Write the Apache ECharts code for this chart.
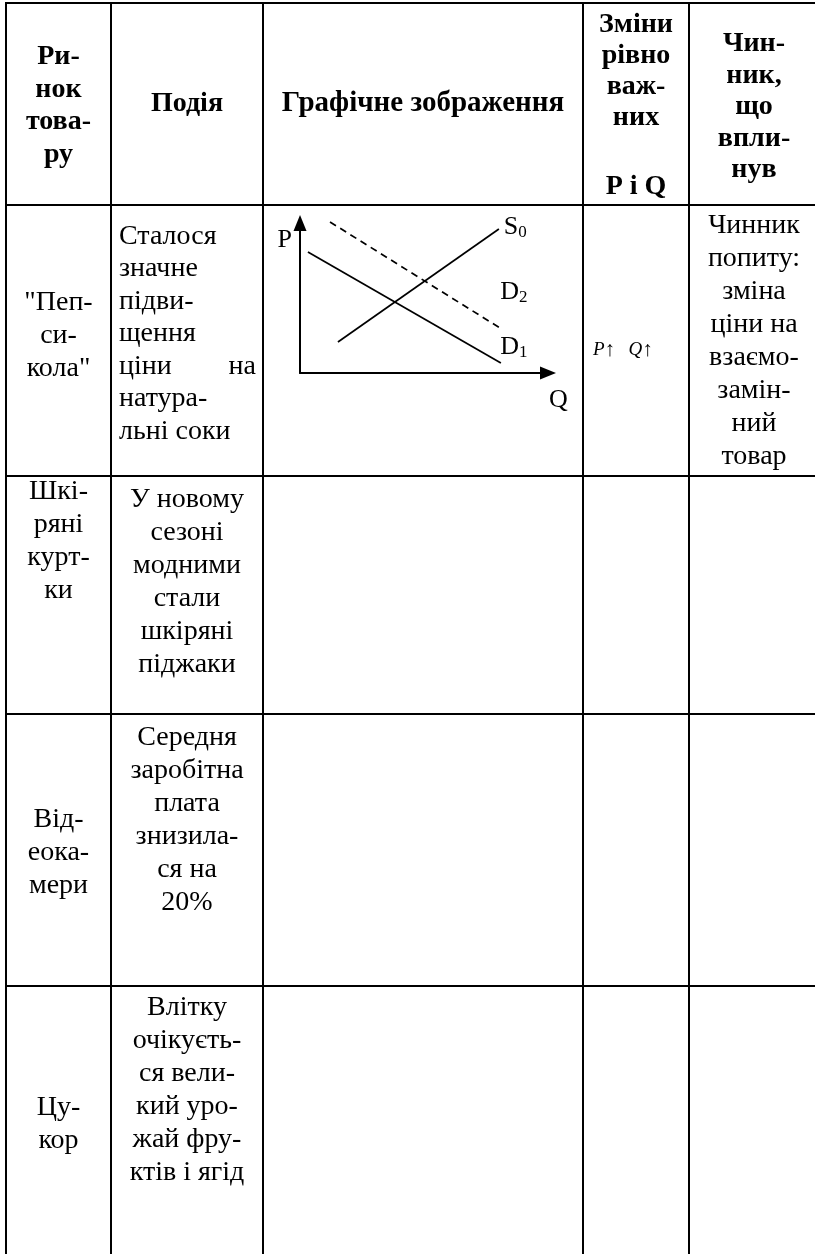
<!DOCTYPE html>
<html><head><meta charset="utf-8">
<script src="https://cdn.jsdelivr.net/npm/echarts@6/dist/echarts.min.js"></script>
<style>html,body{margin:0;padding:0;background:#fff}#c{width:815px;height:1254px}</style>
</head><body><div id="c"></div>
<script>
// ---- table content ----
const columnHeaders = [
  ["Ри-","нок","това-","ру"],
  ["Подія"],
  ["Графічне зображення"],
  ["Зміни","рівно","важ-","них"],
  ["Чин-","ник,","що","впли-","нув"]
];
const headerPQ = "P і Q";
const markets = [
  ["\"Пеп-","си-","кола\""],
  ["Шкі-","ряні","курт-","ки"],
  ["Від-","еока-","мери"],
  ["Цу-","кор"]
];
const events = [
  ["Сталося","значне","підви-","щення","ціни на","натура-","льні соки"],
  ["У новому","сезоні","модними","стали","шкіряні","піджаки"],
  ["Середня","заробітна","плата","знизила-","ся на","20%"],
  ["Влітку","очікуєть-","ся вели-","кий уро-","жай фру-","ктів і ягід"]
];
const equilibriumChanges = [["P","↑","Q","↑"], [], [], []];
const factors = [
  ["Чинник","попиту:","зміна","ціни на","взаємо-","замін-","ний","товар"],
  [], [], []
];

// ---- graph data (P–Q diagram, arbitrary units 0..10) ----
const curveS0 = [[1.53, 2.07], [8.02, 9.6]];
const curveD1 = [[0.32, 8.07], [8.10, 0.67]];
const curveD2 = [[1.21, 10.07], [8.19, 2.87]];
const curveLabels = [
  {main: "S", sub: "0", at: [8.68, 9.75]},
  {main: "D", sub: "2", at: [8.62, 5.4]},
  {main: "D", sub: "1", at: [8.62, 1.73]}
];
const axisLabels = [
  {main: "P", at: [-0.62, 8.87]},
  {main: "Q", at: [10.42, -1.8]}
];

// ---- layout ----
const FONT = '"Liberation Serif","Times New Roman",serif';
const colX = [6, 111, 263, 583, 689, 817];
const rowY = [3, 205, 476, 714, 986, 1262];
const colC = [58.5, 187, 423, 636, 754];

const g = [];
function line(x1, y1, x2, y2) {
  g.push({type: 'line', shape: {x1, y1, x2, y2}, style: {stroke: '#000', lineWidth: 2}, z: 10});
}
colX.forEach(x => line(x, rowY[0] - 1, x, rowY[5]));
rowY.forEach(y => line(colX[0] - 1, y, colX[5], y));

function text(t, x, y, font, align) {
  g.push({type: 'text', x, y, z: 11,
    style: {text: t, font, fill: '#000', textAlign: align || 'center', textVerticalAlign: 'middle'}});
}
function blockCentered(lines, cx, cy, lh, font) {
  const n = lines.length;
  lines.forEach((t, i) => { if (t) text(t, cx, cy + (i - (n - 1) / 2) * lh, font); });
}
function blockTop(lines, cx, y0, lh, font) {
  lines.forEach((t, i) => { if (t) text(t, cx, y0 + i * lh, font); });
}
function blockJustified(lines, xl, xr, cy, lh, font) {
  const n = lines.length;
  lines.forEach((t, i) => {
    const y = cy + (i - (n - 1) / 2) * lh;
    const w = t.split(' ');
    if (w.length > 1 && i < n - 1) {
      text(w[0], xl, y, font, 'left');
      text(w[w.length - 1], xr, y, font, 'right');
    } else text(t, xl, y, font, 'left');
  });
}

const HF = 'bold 28px ' + FONT;
const BF = '28px ' + FONT;
const LH = 33;

// header
blockCentered(columnHeaders[0], colC[0], 106, 32.5, HF);
blockCentered(columnHeaders[1], colC[1], 104, 32, HF);
blockCentered(columnHeaders[2], colC[2], 104, 32, 'bold 29px ' + FONT);
blockTop(columnHeaders[3], colC[3], 25, 31, HF);
text(headerPQ, colC[3], 187, HF);
blockCentered(columnHeaders[4], colC[4], 107, 31.5, HF);

// row 1
blockCentered(markets[0], colC[0], 336, LH, BF);
blockJustified(events[0], 119, 256, 334, 32.5, BF);
blockCentered(factors[0], colC[4], 341, LH, BF);
g.push({type: 'text', x: 593, y: 350, z: 11, style: {
  text: '{i|' + equilibriumChanges[0][0] + '}{a|' + equilibriumChanges[0][1] + '}    {i|' + equilibriumChanges[0][2] + '}{a|' + equilibriumChanges[0][3] + '}',
  textAlign: 'left', textVerticalAlign: 'middle', fill: '#000',
  rich: {i: {font: 'italic 19px ' + FONT, fill: '#000'}, a: {font: '21px ' + FONT, fill: '#000'}}
}});

// row 2
blockTop(markets[1], colC[0], 492, LH, BF);
blockTop(events[1], colC[1], 500, LH, BF);
// row 3
blockCentered(markets[2], colC[0], 853, LH, BF);
blockTop(events[2], colC[1], 738, LH, BF);
// row 4
blockCentered(markets[3], colC[0], 1124, LH, BF);
blockTop(events[3], colC[1], 1008, LH, BF);

// ---- chart ----
const chart = echarts.init(document.getElementById('c'), null, {renderer: 'canvas'});
const axisCommon = {
  type: 'value', min: 0, max: 10,
  axisTick: {show: false}, axisLabel: {show: false}, splitLine: {show: false},
  axisLine: {show: true, onZero: false, symbol: ['none', 'triangle'], symbolSize: [13, 16],
    lineStyle: {color: '#000', width: 2}}
};
const labelRich = {
  m: {fontFamily: FONT, fontSize: 26, color: '#000', lineHeight: 28},
  s: {fontFamily: FONT, fontSize: 17, color: '#000', lineHeight: 14, verticalAlign: 'bottom'}
};
const labelBase = {show: true, position: 'inside', color: '#000', textBorderWidth: 0,
  textShadowBlur: 0, rich: labelRich};
chart.setOption({
  animation: false,
  backgroundColor: '#fff',
  grid: {left: 300, top: 223, width: 248, height: 150},
  xAxis: axisCommon,
  yAxis: axisCommon,
  series: [
    {type: 'line', data: curveS0, symbol: 'none', clip: false, lineStyle: {color: '#000', width: 1.7}},
    {type: 'line', data: curveD1, symbol: 'none', clip: false, lineStyle: {color: '#000', width: 1.7}},
    {type: 'line', data: curveD2, symbol: 'none', clip: false, lineStyle: {color: '#000', width: 1.7, type: [7, 5]}},
    {type: 'scatter', symbolSize: 0, clip: false, itemStyle: {color: '#000', opacity: 1},
      data: curveLabels.map(l => ({value: l.at, name: l.main, sub: l.sub})),
      label: Object.assign({}, labelBase, {formatter: p => '{m|' + p.data.name + '}{s|' + p.data.sub + '}'})},
    {type: 'scatter', symbolSize: 0, clip: false, itemStyle: {color: '#000', opacity: 1},
      data: axisLabels.map(l => ({value: l.at, name: l.main})),
      label: Object.assign({}, labelBase, {formatter: p => '{m|' + p.data.name + '}'})}
  ],
  graphic: g
});
</script></body></html>
